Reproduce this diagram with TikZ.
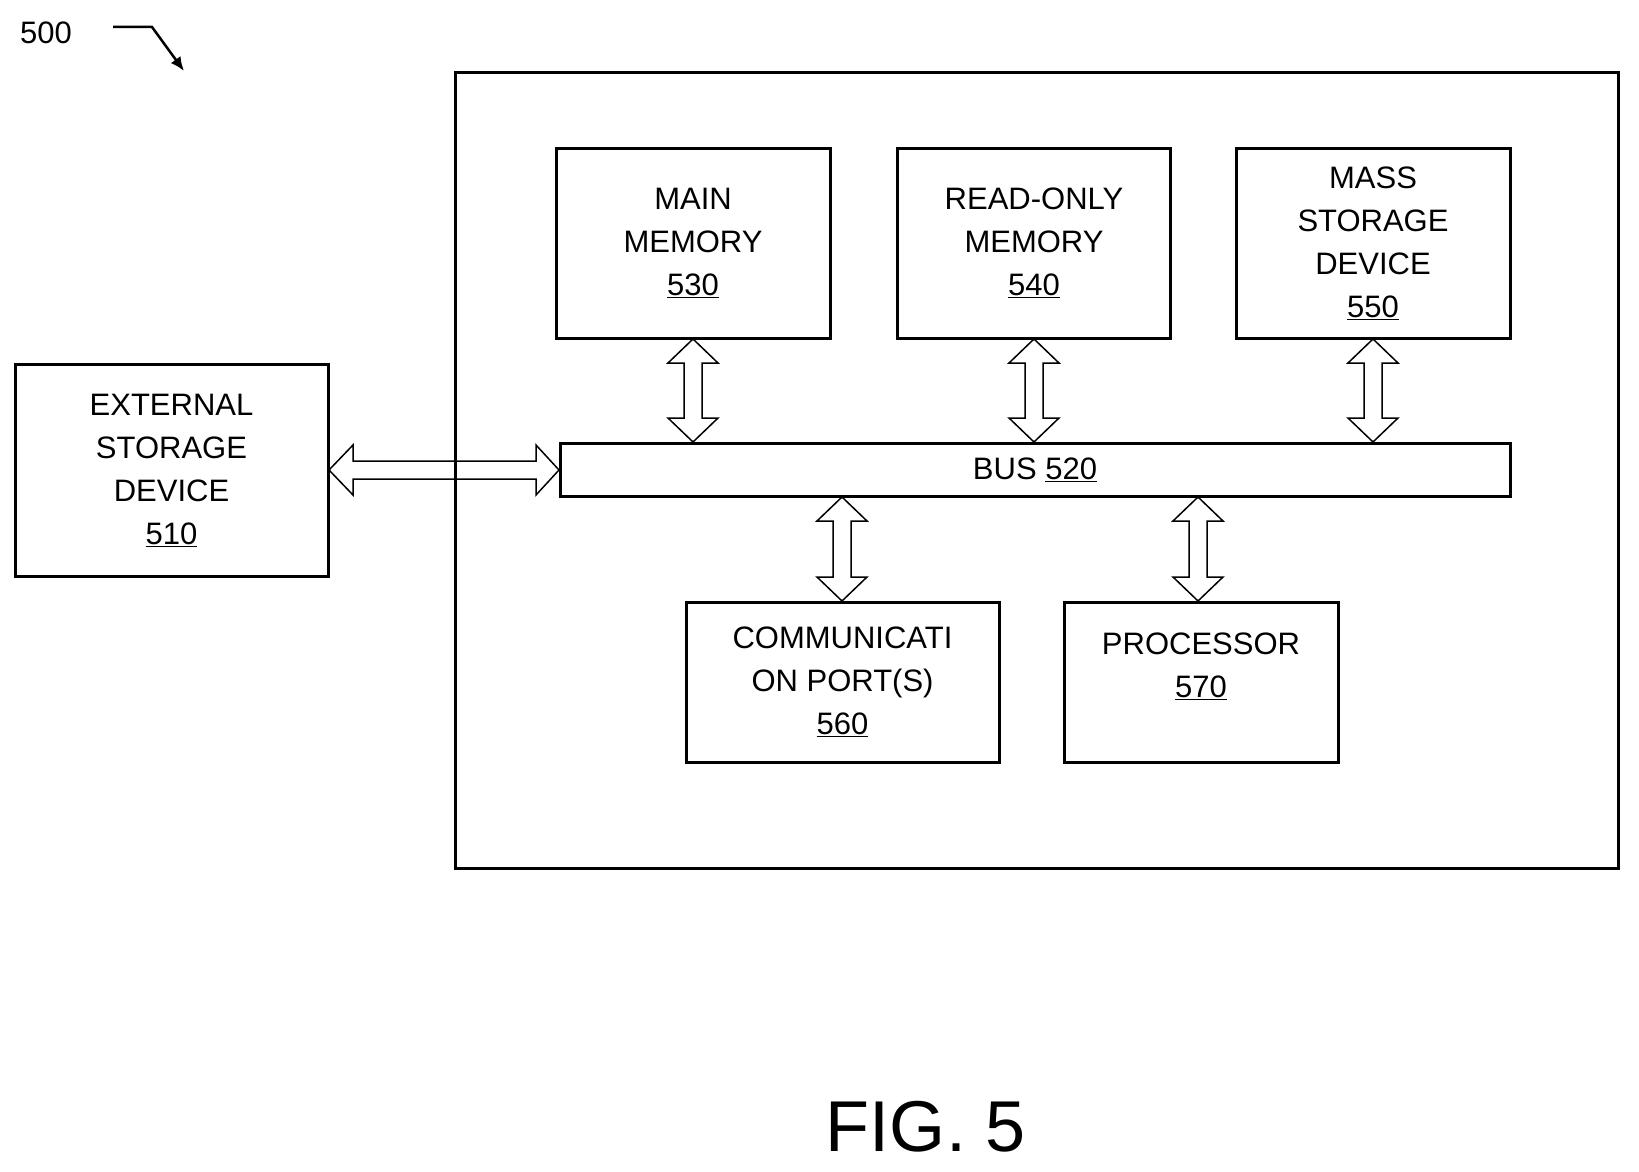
\documentclass[tikz,border=0pt]{standalone}
\usepackage{fontspec}
\usetikzlibrary{arrows.meta}
\setmainfont{Liberation Sans}
\begin{document}
\begin{tikzpicture}[x=1pt,y=-1pt,
 box/.style={draw,line width=3pt,inner sep=0pt,align=center,font=\fontsize{31}{43}\selectfont},
 lbl/.style={font=\fontsize{31}{43}\selectfont}]
\useasboundingbox (0,0) rectangle (1639,1172);
\newcommand{\dar}[4]{% vertical: x, y1, y2 ; #4 unused
 \draw[line width=1.5pt,line join=miter] (#1,#2) -- (#1+25,#2+24) -- (#1+9,#2+24) -- (#1+9,#3-24) -- (#1+25,#3-24) -- (#1,#3) -- (#1-25,#3-24) -- (#1-9,#3-24) -- (#1-9,#2+24) -- (#1-25,#2+24) -- cycle;}
\node[draw,line width=3pt,minimum width=1163pt,minimum height=796pt,anchor=north west] (outer) at (454,71) {};
\node[box,minimum width=274pt,minimum height=190pt] (mm) at (693,243) {MAIN\\MEMORY\\\underline{530}};
\node[box,minimum width=273pt,minimum height=190pt] (rom) at (1034,243) {READ-ONLY\\MEMORY\\\underline{540}};
\node[box,minimum width=274pt,minimum height=190pt] (ms) at (1373,243) {MASS\\STORAGE\\DEVICE\\\underline{550}};
\node[box,minimum width=950pt,minimum height=53pt] (bus) at (1035,469.5) {BUS \underline{520}};
\node[box,minimum width=313pt,minimum height=212pt] (ext) at (171.5,470) {EXTERNAL\\STORAGE\\DEVICE\\\underline{510}};
\node[box,minimum width=313pt,minimum height=160pt] (comm) at (842.5,682) {COMMUNICATI\\ON PORT(S)\\\underline{560}};
\node[box,minimum width=274pt,minimum height=160pt] (proc) at (1201,682) {PROCESSOR\\\underline{570}\\[-10pt]};
\dar{693}{339}{442}{}
\dar{1034}{339}{442}{}
\dar{1373}{339}{442}{}
\dar{842}{497}{601}{}
\dar{1198}{497}{601}{}
\draw[line width=1.5pt,line join=miter] (329,470) -- (353,445) -- (353,461) -- (536,461) -- (536,445) -- (559,470) -- (536,495) -- (536,479) -- (353,479) -- (353,495) -- cycle;
\node[lbl] (n500) at (46,33) {500};
\coordinate (a1) at (113,27);
\coordinate (a2) at (184,71);
\draw[line width=2.5pt,-{Latex[length=14pt,width=12pt]}] (a1) -- (152,27) -- (a2);
\node[font=\fontsize{72}{80}\selectfont] (fig) at (926,1127) {FIG. 5};
\end{tikzpicture}
\end{document}
